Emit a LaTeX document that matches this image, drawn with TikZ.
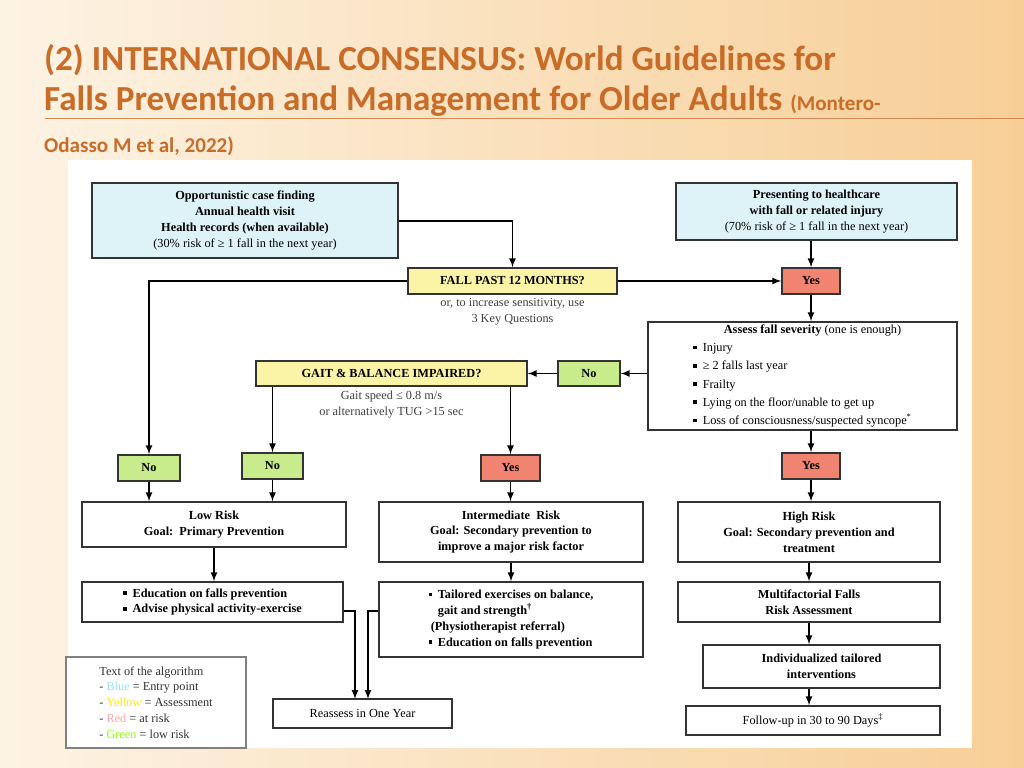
\documentclass[tikz,border=0pt]{standalone}
\usepackage{fontspec}
\setmainfont{Liberation Serif}
\newfontfamily\titlefont{Carlito}
\usetikzlibrary{positioning}

\definecolor{bluebox}{RGB}{221,243,248}
\definecolor{yelbox}{RGB}{251,243,166}
\definecolor{redbox}{RGB}{240,132,112}
\definecolor{grnbox}{RGB}{200,236,140}
\definecolor{titlecol}{RGB}{200,108,40}
\definecolor{bglight}{RGB}{253,243,228}
\definecolor{bgdark}{RGB}{247,206,150}

\newcommand{\bul}{\rule[2pt]{3pt}{3pt}\hspace{5pt}}

\tikzset{
  box/.style={draw=black!80, line width=1.2pt, align=center, inner sep=2pt,
    font=\fontsize{10.5}{13.5}\selectfont\bfseries},
  normaltext/.style={font=\fontsize{10.5}{13.5}\selectfont\mdseries},
  flow/.style={->, >=latex, line width=1.6pt},
  note/.style={align=center, text=black!75, font=\fontsize{10.5}{13.5}\selectfont}
}

\begin{document}
\begin{tikzpicture}[x=0.03cm,y=-0.03cm]

  % background and title
  \shade[left color=bglight, right color=bgdark] (0,0) rectangle (1024,768);
  \useasboundingbox (0,0) rectangle (1024,768);
  \draw[titlecol!80, line width=0.8pt] (45,118) -- (1024,118);
  \node[anchor=west, text=titlecol, font=\titlefont\bfseries\fontsize{30}{34}\selectfont] (t1) at (40,60)
    {(2) INTERNATIONAL CONSENSUS: World Guidelines for};
  \node[anchor=west, text=titlecol, font=\titlefont\bfseries\fontsize{30}{34}\selectfont] (t2) at (40,101)
    {Falls Prevention and Management for Older Adults {\fontsize{18}{20}\selectfont(Montero-}};
  \node[anchor=west, text=titlecol, font=\titlefont\bfseries\fontsize{18}{20}\selectfont] (t3) at (40,146)
    {Odasso M et al, 2022)};
  \fill[white] (68,160) rectangle (972,748);

  % entry points
  \node[box, fill=bluebox, minimum width=306*0.03cm, minimum height=75*0.03cm] (find) at (245,220.5)
    {Opportunistic case finding\\Annual health visit\\Health records (when available)\\
     \mdseries (30\% risk of ≥ 1 fall in the next year)};
  \node[box, fill=bluebox, minimum width=281*0.03cm, minimum height=57*0.03cm] (present) at (816.5,211.5)
    {Presenting to healthcare\\with fall or related injury\\
     \mdseries (70\% risk of ≥ 1 fall in the next year)};

  % assessment
  \node[box, fill=yelbox, minimum width=209*0.03cm, minimum height=26*0.03cm] (fall) at (512.5,281)
    {FALL PAST 12 MONTHS?};
  \node[note, below=0pt of fall] (fallnote) {or, to increase sensitivity, use\\3 Key Questions};
  \node[box, fill=redbox, minimum width=58*0.03cm, minimum height=26*0.03cm] (yestop) at (811,281) {Yes};
  \node[box, fill=white, align=left, minimum width=309*0.03cm, minimum height=108*0.03cm,
    font=\fontsize{10.5}{15.5}\selectfont] (severity) at (802.5,376)
    {\hspace{26pt}\textbf{Assess fall severity} (one is enough)\\
     \bul Injury\\ \bul ≥ 2 falls last year\\ \bul Frailty\\
     \bul Lying on the floor/unable to get up\\
     \bul Loss of consciousness/suspected syncope\textsuperscript{*}};
  \node[box, fill=grnbox, minimum width=62*0.03cm, minimum height=25*0.03cm] (nosev) at (589,373.5) {No};
  \node[box, fill=yelbox, minimum width=271*0.03cm, minimum height=25*0.03cm] (gait) at (391.5,373.5)
    {GAIT \& BALANCE IMPAIRED?};
  \node[note, below=0pt of gait] (gaitnote) {Gait speed ≤ 0.8 m/s\\or alternatively TUG >15 sec};

  % outcomes
  \node[box, fill=grnbox, minimum width=62*0.03cm, minimum height=26*0.03cm] (nofall) at (149,468) {No};
  \node[box, fill=grnbox, minimum width=61*0.03cm, minimum height=26*0.03cm] (nogait) at (272.5,466) {No};
  \node[box, fill=redbox, minimum width=59*0.03cm, minimum height=26*0.03cm] (yesgait) at (510.5,468) {Yes};
  \node[box, fill=redbox, minimum width=58*0.03cm, minimum height=26*0.03cm] (yessev) at (811,466) {Yes};

  % risk levels
  \node[box, fill=white, minimum width=264*0.03cm, minimum height=45*0.03cm] (low) at (214,524.5)
    {Low Risk\\Goal:\ \ Primary Prevention};
  \node[box, fill=white, minimum width=264*0.03cm, minimum height=60*0.03cm] (mid) at (511,532)
    {Intermediate\ \ Risk\\Goal: Secondary prevention to\\improve a major risk factor};
  \node[box, fill=white, minimum width=262*0.03cm, minimum height=60*0.03cm] (high) at (809,532)
    {High Risk\\Goal: Secondary prevention and\\treatment};

  % actions
  \node[box, fill=white, align=left, minimum width=261*0.03cm, minimum height=40*0.03cm] (edu) at (212.5,602)
    {\bul Education on falls prevention\\\bul Advise physical activity-exercise};
  \node[box, fill=white, align=left, minimum width=264*0.03cm, minimum height=75*0.03cm] (tailor) at (511,619.5)
    {\bul Tailored exercises on balance,\\\hspace{8pt}gait and strength\textsuperscript{†}\\
     \hspace{2pt}(Physiotherapist referral)\\\bul Education on falls prevention};
  \node[box, fill=white, minimum width=262*0.03cm, minimum height=40*0.03cm] (multi) at (809,602)
    {Multifactorial Falls\\Risk Assessment};
  \node[box, fill=white, minimum width=237*0.03cm, minimum height=43*0.03cm] (indiv) at (821.5,666.5)
    {Individualized tailored\\interventions};
  \node[box, normaltext, fill=white, minimum width=254*0.03cm, minimum height=29*0.03cm] (follow) at (813,720.5)
    {Follow-up in 30 to 90 Days\textsuperscript{‡}};
  \node[box, normaltext, fill=white, minimum width=179*0.03cm, minimum height=29*0.03cm] (reassess) at (362.5,713.5)
    {Reassess in One Year};

  % legend
  \node[box, normaltext, draw=black!50, fill=white, align=left, minimum width=180*0.03cm,
    minimum height=91*0.03cm, text=black!80] (legend) at (156,702.5)
    {Text of the algorithm\\- \textcolor{cyan!40}{Blue} = Entry point\\
     - \textcolor{yellow!90!orange}{Yellow} = Assessment\\
     - \textcolor{red!35}{Red} = at risk\\- \textcolor{green!45!yellow}{Green} = low risk};

  % connectors
  \draw[flow] (find.east |- 0,221) -| (fall.north);
  \draw[flow] (yestop |- present.south) -- (yestop.north);
  \draw[flow] (fall.east) -- (yestop.west);
  \draw[flow] (fall.west) -| (nofall.north);
  \draw[flow] (yestop.south) -- (yestop.south |- severity.north);
  \draw[flow] (severity.west |- nosev) -- (nosev.east);
  \draw[flow] (nosev.west) -- (gait.east);
  \draw[flow] (nogait |- gait.south) -- (nogait.north);
  \draw[flow] (yesgait |- gait.south) -- (yesgait.north);
  \draw[flow] (yessev |- severity.south) -- (yessev.north);
  \draw[flow] (nofall.south) -- (nofall |- low.north);
  \draw[flow] (nogait.south) -- (nogait |- low.north);
  \draw[flow] (yesgait.south) -- (yesgait |- mid.north);
  \draw[flow] (yessev.south) -- (yessev |- high.north);
  \draw[flow] (low.south) -- (low |- edu.north);
  \draw[flow] (mid.south) -- (mid |- tailor.north);
  \draw[flow] (high.south) -- (high |- multi.north);
  \draw[flow] (multi.south) -- (multi.south |- indiv.north);
  \draw[flow] (multi.south |- indiv.south) -- (multi.south |- follow.north);
  \coordinate (inleft) at (355,699);
  \coordinate (inright) at (368,699);
  \draw[flow] (edu.east |- 0,611) -| (inleft);
  \draw[flow] (tailor.west |- 0,611) -| (inright);

\end{tikzpicture}
\end{document}
